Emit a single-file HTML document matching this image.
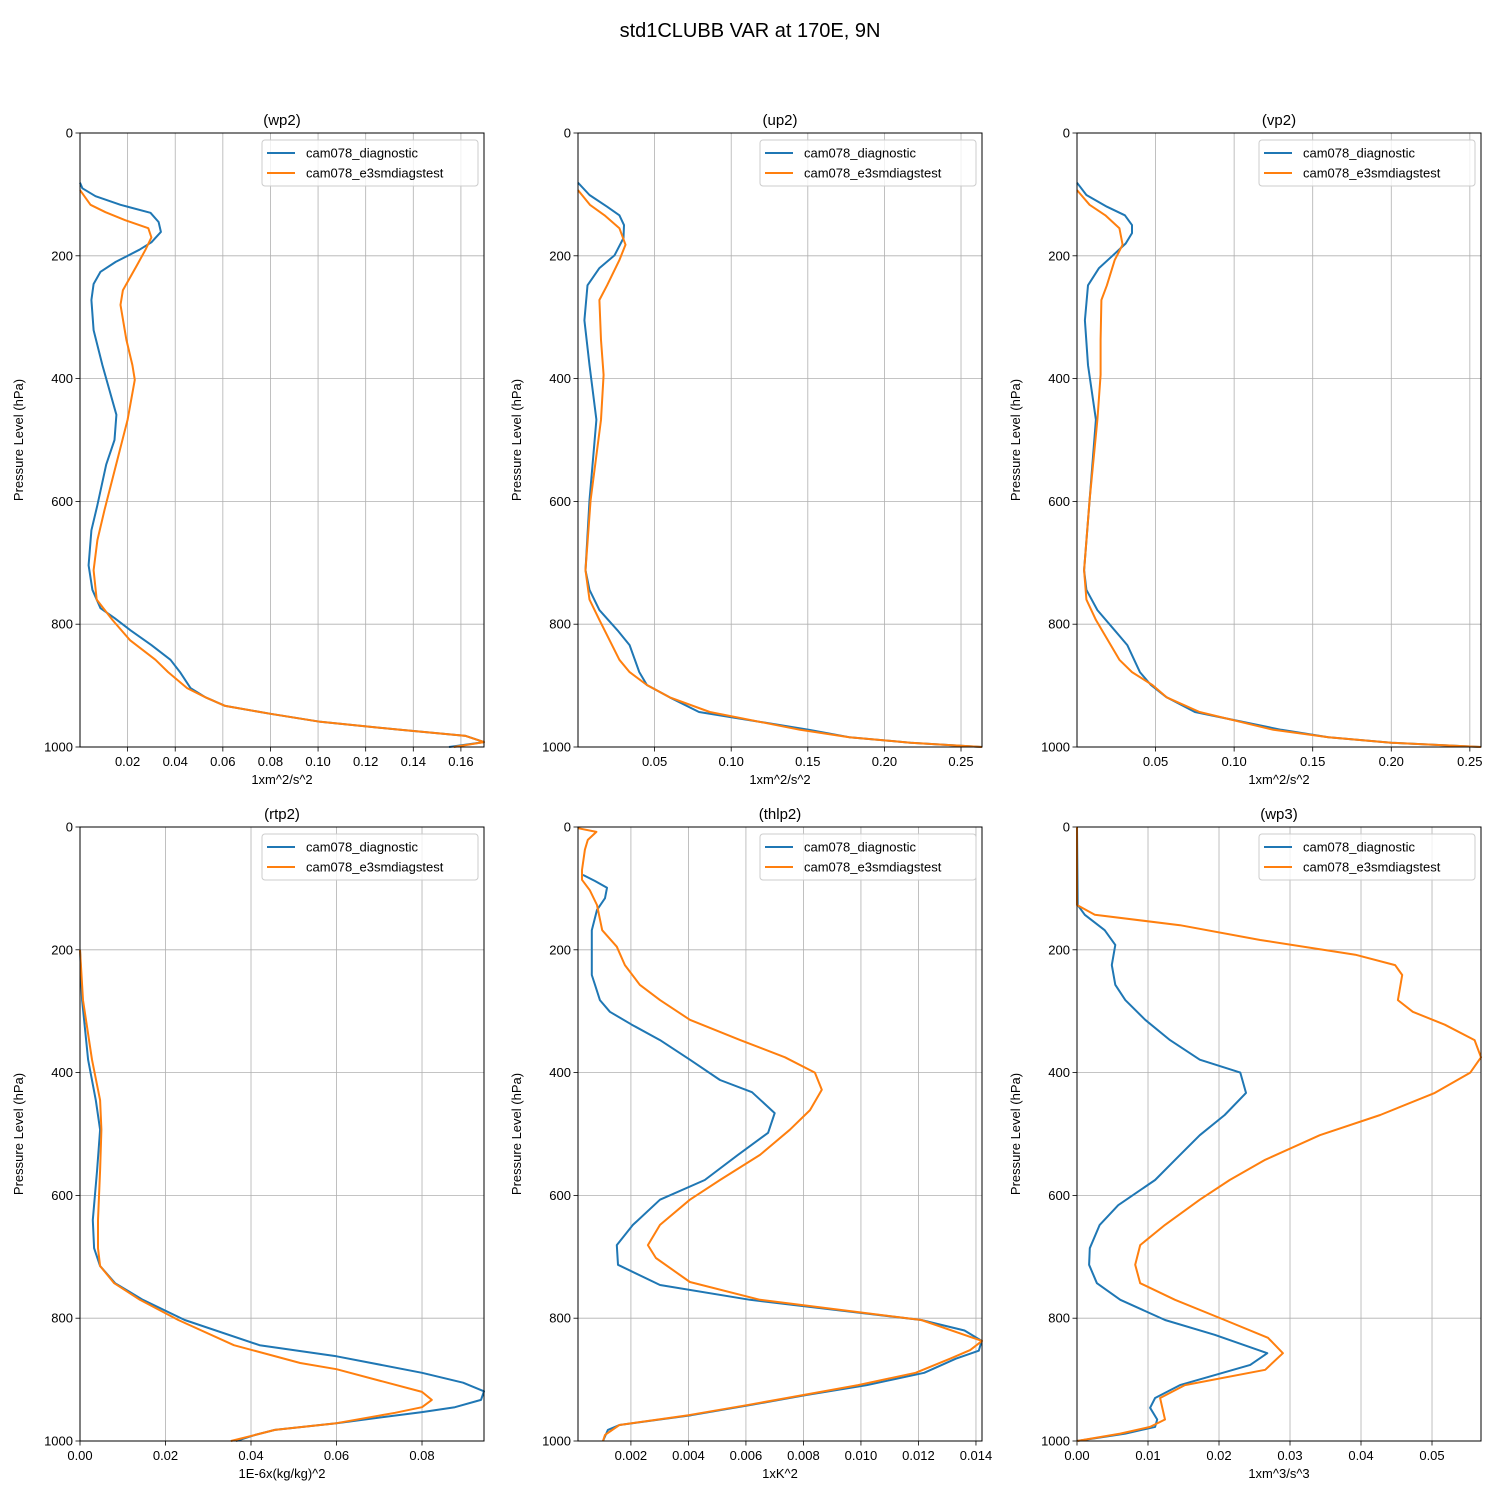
<!DOCTYPE html>
<html><head><meta charset="utf-8"><style>
html,body{margin:0;padding:0;background:#fff;}
svg text{font-family:"Liberation Sans","DejaVu Sans",sans-serif;}
</style></head><body>
<svg id="fig" width="1500" height="1500" xmlns="http://www.w3.org/2000/svg">
<text x="750" y="37" font-size="20" text-anchor="middle">std1CLUBB VAR at 170E, 9N</text>
</svg>
<script>
const wp2BlueP = [81,90,103,117,130,145,161,178,190,210,226,246,272,321,378,459,500,540,606,647,704,744,774,790,810,834,858,878,904,919,933,946,959,972,982,992,1000];
const wp2BlueV = [0,0.001,0.0065,0.017,0.0296,0.033,0.034,0.030,0.025,0.015,0.0086,0.0057,0.0048,0.0057,0.0094,0.0153,0.0145,0.011,0.0073,0.0048,0.0036,0.0052,0.0086,0.0145,0.0212,0.030,0.038,0.042,0.0464,0.0527,0.061,0.080,0.101,0.1345,0.162,0.1697,0.155];
const wp2OrangeP = [93,117,129,142,155,170,190,215,256,280,337,378,402,467,532,614,663,712,760,793,826,858,878,904,919,933,946,959,972,982,992,1000];
const wp2OrangeV = [0,0.0044,0.0107,0.019,0.0287,0.030,0.0275,0.024,0.018,0.017,0.0195,0.022,0.023,0.020,0.0157,0.0103,0.0073,0.0057,0.007,0.0136,0.021,0.0317,0.037,0.045,0.0527,0.061,0.080,0.101,0.1345,0.162,0.1697,0.157];

const up2BlueP = [81,101,120,134,150,171,199,220,248,305,378,467,598,712,744,777,810,834,878,899,919,943,972,984,993,1000];
const up2BlueV = [0,0.0075,0.019,0.027,0.030,0.0297,0.0239,0.014,0.0062,0.0042,0.0075,0.012,0.0075,0.0049,0.0075,0.014,0.0258,0.0337,0.040,0.045,0.0598,0.079,0.151,0.177,0.217,0.2637];
const up2OrangeP = [93,117,134,155,182,207,248,272,337,394,467,598,712,760,793,858,878,899,919,943,972,984,993,1000];
const up2OrangeV = [0,0.0078,0.0173,0.027,0.031,0.027,0.019,0.014,0.015,0.0167,0.015,0.0082,0.0049,0.0075,0.014,0.027,0.0337,0.045,0.0598,0.086,0.145,0.177,0.217,0.2637];

const vp2BlueP = [81,101,120,134,150,163,180,199,220,248,305,378,467,598,712,744,777,810,834,878,899,919,943,972,984,993,1000];
const vp2BlueV = [0,0.006,0.019,0.0305,0.035,0.035,0.031,0.023,0.014,0.007,0.005,0.007,0.012,0.008,0.0045,0.006,0.013,0.024,0.032,0.040,0.047,0.057,0.075,0.13,0.16,0.2,0.257];
const vp2OrangeP = [93,117,134,155,182,207,248,272,337,394,467,598,712,760,793,858,878,899,919,943,972,984,993,1000];
const vp2OrangeV = [0,0.008,0.018,0.027,0.029,0.024,0.019,0.0155,0.015,0.015,0.013,0.008,0.0045,0.006,0.012,0.027,0.035,0.048,0.057,0.078,0.125,0.16,0.2,0.257];

const rtp2BlueP = [200,282,379,445,493,559,640,686,715,743,770,803,844,862,889,905,919,933,945,953,971,982,990,1000];
const rtp2BlueV = [0,0.0005,0.0019,0.0037,0.0047,0.004,0.003,0.0033,0.0047,0.0082,0.0147,0.0245,0.042,0.060,0.080,0.0896,0.0945,0.0938,0.0877,0.080,0.060,0.0456,0.041,0.0365];
const rtp2OrangeP = [200,282,379,445,493,559,640,686,715,743,770,803,844,873,883,920,933,945,954,971,982,990,1000];
const rtp2OrangeV = [0,0.0007,0.0028,0.0047,0.005,0.0047,0.0042,0.0042,0.0047,0.008,0.014,0.023,0.036,0.0515,0.060,0.080,0.0823,0.080,0.0737,0.060,0.0456,0.041,0.0353];

const thlp2BlueP = [78,88,99,116,135,168,241,257,282,301,322,347,379,412,432,466,498,534,575,607,648,681,713,746,770,803,820,837,853,866,889,909,925,941,958,974,982,1000];
const thlp2BlueV = [0.00033,0.00075,0.00117,0.0011,0.00082,0.00064,0.00064,0.00075,0.00092,0.00127,0.00203,0.00301,0.00405,0.0051,0.00621,0.007,0.00677,0.00572,0.00457,0.00301,0.00207,0.00151,0.00155,0.00301,0.00614,0.0121,0.0136,0.0142,0.0141,0.0133,0.0122,0.0102,0.0081,0.0062,0.0041,0.0016,0.0012,0.00103];
const thlp2OrangeP = [2,8,21,37,70,86,103,127,168,195,225,257,282,314,347,375,400,428,461,493,534,575,607,648,681,702,741,770,803,837,852,866,889,909,925,941,958,974,990,1000];
const thlp2OrangeV = [0.00016,0.0008,0.0005,0.0004,0.0003,0.0003,0.00057,0.00082,0.001,0.00151,0.00179,0.00231,0.00301,0.00405,0.0058,0.00736,0.0084,0.00864,0.00823,0.00753,0.00649,0.0051,0.00405,0.00301,0.00259,0.00287,0.00405,0.00649,0.0121,0.01421,0.0138,0.0131,0.0119,0.0099,0.0080,0.0061,0.0040,0.0016,0.0011,0.00103];

const wp3BlueP = [0,127,143,168,192,225,257,282,314,347,379,400,433,469,502,534,575,616,648,686,713,743,770,803,827,857,876,909,930,946,965,977,988,1000];
const wp3BlueV = [0,0.0001,0.0011,0.0039,0.0054,0.0049,0.0054,0.0068,0.0096,0.0131,0.0173,0.023,0.0238,0.0208,0.0173,0.0145,0.011,0.0058,0.0032,0.0018,0.0017,0.0028,0.0061,0.0124,0.0194,0.0268,0.0244,0.0145,0.011,0.0103,0.0113,0.011,0.0068,0];
const wp3OrangeP = [0,127,143,160,184,208,225,241,282,301,322,347,375,400,433,469,502,542,575,607,648,681,713,743,770,803,832,857,884,909,930,950,965,977,988,1000];
const wp3OrangeV = [0,0,0.0025,0.0145,0.0258,0.0392,0.0448,0.0458,0.0452,0.0473,0.0518,0.056,0.0569,0.0554,0.0504,0.0427,0.0342,0.0265,0.0215,0.0173,0.0124,0.0089,0.0082,0.0089,0.0138,0.0208,0.0269,0.029,0.0265,0.0152,0.0117,0.0121,0.0124,0.0103,0.0061,0];

const yTicks = [0,200,400,600,800,1000];
const wp2Ticks = [0.02,0.04,0.06,0.08,0.10,0.12,0.14,0.16];
const up2Ticks = [0.05,0.10,0.15,0.20,0.25];
const vp2Ticks = [0.05,0.10,0.15,0.20,0.25];
const rtp2Ticks = [0,0.02,0.04,0.06,0.08];
const thlp2Ticks = [0.002,0.004,0.006,0.008,0.010,0.012,0.014];
const wp3Ticks = [0,0.01,0.02,0.03,0.04,0.05];

const panels = [
 {name:'wp2', l:80,r:484,t:133,b:747,xmin:0,xmax:0.1697,ticks:wp2Ticks,dec:2,xl:'1xm^2/s^2',bp:wp2BlueP,bv:wp2BlueV,op:wp2OrangeP,ov:wp2OrangeV},
 {name:'up2', l:578,r:982,t:133,b:747,xmin:0,xmax:0.2637,ticks:up2Ticks,dec:2,xl:'1xm^2/s^2',bp:up2BlueP,bv:up2BlueV,op:up2OrangeP,ov:up2OrangeV},
 {name:'vp2', l:1077,r:1481,t:133,b:747,xmin:0,xmax:0.2571,ticks:vp2Ticks,dec:2,xl:'1xm^2/s^2',bp:vp2BlueP,bv:vp2BlueV,op:vp2OrangeP,ov:vp2OrangeV},
 {name:'rtp2', l:80,r:484,t:827,b:1441,xmin:0,xmax:0.0945,ticks:rtp2Ticks,dec:2,xl:'1E-6x(kg/kg)^2',bp:rtp2BlueP,bv:rtp2BlueV,op:rtp2OrangeP,ov:rtp2OrangeV},
 {name:'thlp2', l:578,r:982,t:827,b:1441,xmin:0.00016,xmax:0.01421,ticks:thlp2Ticks,dec:3,xl:'1xK^2',bp:thlp2BlueP,bv:thlp2BlueV,op:thlp2OrangeP,ov:thlp2OrangeV},
 {name:'wp3', l:1077,r:1481,t:827,b:1441,xmin:0,xmax:0.0569,ticks:wp3Ticks,dec:2,xl:'1xm^3/s^3',bp:wp3BlueP,bv:wp3BlueV,op:wp3OrangeP,ov:wp3OrangeV}
];
const NS='http://www.w3.org/2000/svg';
const fig=document.getElementById('fig');
function mk(tag,attrs,parent){const e=document.createElementNS(NS,tag);for(const k in attrs)e.setAttribute(k,attrs[k]);(parent||fig).appendChild(e);return e;}
panels.forEach(P=>{
  const g=mk('g',{});
  
  
  const xs=v=>P.l+(v-P.xmin)/(P.xmax-P.xmin)*(P.r-P.l);
  const ys=p=>P.t+p/1000*(P.b-P.t);
  yTicks.forEach(p=>{
    const y=ys(p);
    const gl=mk('line',{x1:P.l,x2:P.r,y1:y,y2:y,stroke:'#b0b0b0','stroke-width':0.8},g);
    
    
    mk('line',{x1:P.l-4.5,x2:P.l,y1:y,y2:y,stroke:'#000','stroke-width':0.8},g);
    const t=mk('text',{x:P.l-7,y:y+4.5,'font-size':13,'text-anchor':'end'},g);
    t.textContent=p;
    
    
  });
  P.ticks.forEach(v=>{
    const x=xs(v);
    const gl=mk('line',{x1:x,x2:x,y1:P.t,y2:P.b,stroke:'#b0b0b0','stroke-width':0.8},g);
    
    
    mk('line',{x1:x,x2:x,y1:P.b,y2:P.b+4.5,stroke:'#000','stroke-width':0.8},g);
    const t=mk('text',{x:x,y:P.b+19,'font-size':13,'text-anchor':'middle'},g);
    t.textContent=v.toFixed(P.dec);
    
    
  });
  [[P.bp,P.bv,'#1f77b4','blue'],[P.op,P.ov,'#ff7f0e','orange']].forEach(([pp,vv,c,n])=>{
    const d=pp.map((p,i)=>(i?'L':'M')+xs(vv[i]).toFixed(1)+','+ys(p).toFixed(1)).join('');
    const pa=mk('path',{d:d,fill:'none',stroke:c,'stroke-width':2,'stroke-linejoin':'round'},g);
    
    
  });
  const fr=mk('rect',{x:P.l,y:P.t,width:P.r-P.l,height:P.b-P.t,fill:'none',stroke:'#000','stroke-width':1},g);
  
  
  const tt=mk('text',{x:(P.l+P.r)/2,y:P.t-8,'font-size':15,'text-anchor':'middle'},g);
  tt.textContent='('+P.name+')';
  
  
  const xl=mk('text',{x:(P.l+P.r)/2,y:P.b+37,'font-size':13,'text-anchor':'middle'},g);
  xl.textContent=P.xl;
  
  
  const yl=mk('text',{x:0,y:0,'font-size':13,'text-anchor':'middle',transform:'translate('+(P.l-57)+','+((P.t+P.b)/2)+') rotate(-90)'},g);
  yl.textContent='Pressure Level (hPa)';
  
  
  const lg=mk('g',{},g);
  
  
  const lx=P.r-222, ly=P.t+7;
  mk('rect',{x:lx,y:ly,width:216,height:46,rx:3,fill:'#fff','fill-opacity':0.8,stroke:'#ccc','stroke-width':1},lg);
  [['cam078_diagnostic','#1f77b4'],['cam078_e3smdiagstest','#ff7f0e']].forEach(([lab,c],i)=>{
    const yy=ly+13+i*20;
    mk('line',{x1:lx+5,x2:lx+33,y1:yy,y2:yy,stroke:c,'stroke-width':2},lg);
    const t=mk('text',{x:lx+44,y:yy+4.5,'font-size':13},lg);
    t.textContent=lab;
    
    
  });
});
</script>
</body></html>
